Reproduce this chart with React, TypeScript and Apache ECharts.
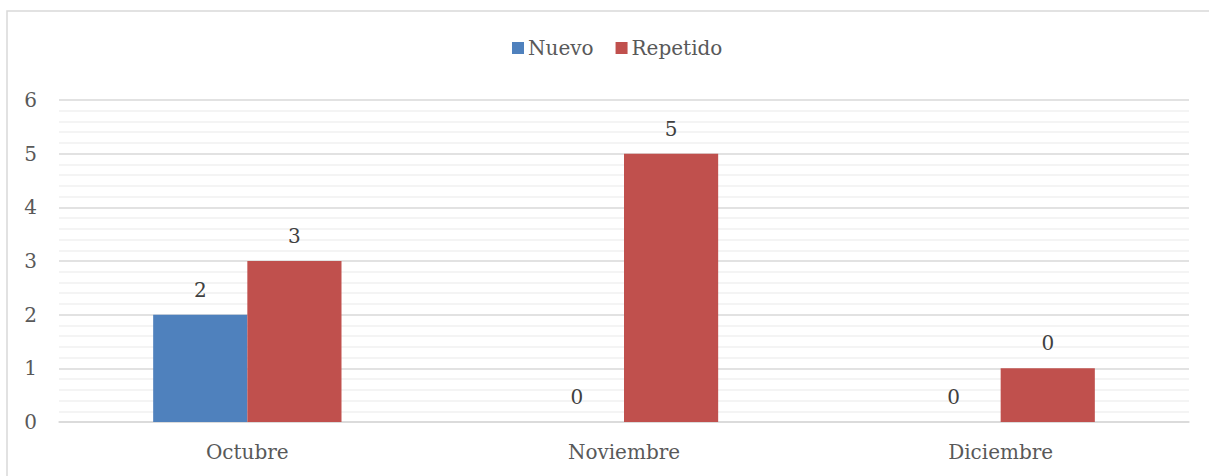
import React, { useEffect, useRef } from "react";
import * as echarts from "echarts";

const categories = ["Octubre", "Noviembre", "Diciembre"];
const nuevoValues = [2, 0, 0];
const repetidoValues = [3, 5, 1];
const nuevoLabels = ["2", "0", "0"];
const repetidoLabels = ["3", "5", "0"];
const yTicks = [0, 1, 2, 3, 4, 5, 6];

const FONT = "DejaVu Serif";

export default function App() {
  const ref = useRef<HTMLDivElement>(null);
  useEffect(() => {
    if (!ref.current) return;
    const chart = echarts.init(ref.current, undefined, { renderer: "svg" });
    chart.setOption({
      animation: false,
      backgroundColor: "#ffffff",
      textStyle: { fontFamily: FONT },
      graphic: [
        {
          type: "rect",
          shape: { x: 7, y: 11, width: 1400, height: 700 },
          style: { fill: "none", stroke: "#D9D9D9", lineWidth: 1.5 },
          silent: true,
          z: -10,
        },
      ],
      legend: {
        top: 33,
        left: 507,
        itemWidth: 12,
        itemHeight: 12,
        itemGap: 22,
        icon: "rect",
        textStyle: { color: "#595959", fontSize: 20, fontFamily: FONT, padding: [0, 0, 0, -1] },
        data: ["Nuevo", "Repetido"],
      },
      grid: { left: 59, right: 20, top: 100, bottom: 54, containLabel: false },
      xAxis: {
        type: "category",
        data: categories,
        axisTick: { show: false },
        axisLine: { lineStyle: { color: "#D9D9D9", width: 1.5 } },
        axisLabel: { color: "#595959", fontSize: 20, fontFamily: FONT, margin: 20 },
      },
      yAxis: {
        type: "value",
        min: yTicks[0],
        max: yTicks[yTicks.length - 1],
        interval: 1,
        axisLine: { show: false },
        axisTick: { show: false },
        axisLabel: { color: "#595959", fontSize: 20, fontFamily: FONT, margin: 22 },
        splitLine: { lineStyle: { color: "#D9D9D9", width: 1.5 } },
        minorTick: { show: false, splitNumber: 5 },
        minorSplitLine: { show: true, lineStyle: { color: "#F0F0F0", width: 1.5 } },
      },
      series: [
        {
          name: "Nuevo",
          type: "bar",
          data: nuevoValues,
          barGap: "0%",
          barCategoryGap: "50%",
          itemStyle: { color: "#4F81BD" },
          label: {
            show: true,
            position: "top",
            distance: 15,
            color: "#404040",
            fontSize: 20,
            fontFamily: FONT,
            formatter: (p: any) => nuevoLabels[p.dataIndex],
          },
        },
        {
          name: "Repetido",
          type: "bar",
          data: repetidoValues,
          barGap: "0%",
          barCategoryGap: "50%",
          itemStyle: { color: "#C0504D" },
          label: {
            show: true,
            position: "top",
            distance: 15,
            color: "#404040",
            fontSize: 20,
            fontFamily: FONT,
            formatter: (p: any) => repetidoLabels[p.dataIndex],
          },
        },
      ],
    });
    return () => chart.dispose();
  }, []);
  return (
    <div
      ref={ref}
      style={{ position: "fixed", left: 0, top: 0, width: 1209, height: 476 }}
    />
  );
}
